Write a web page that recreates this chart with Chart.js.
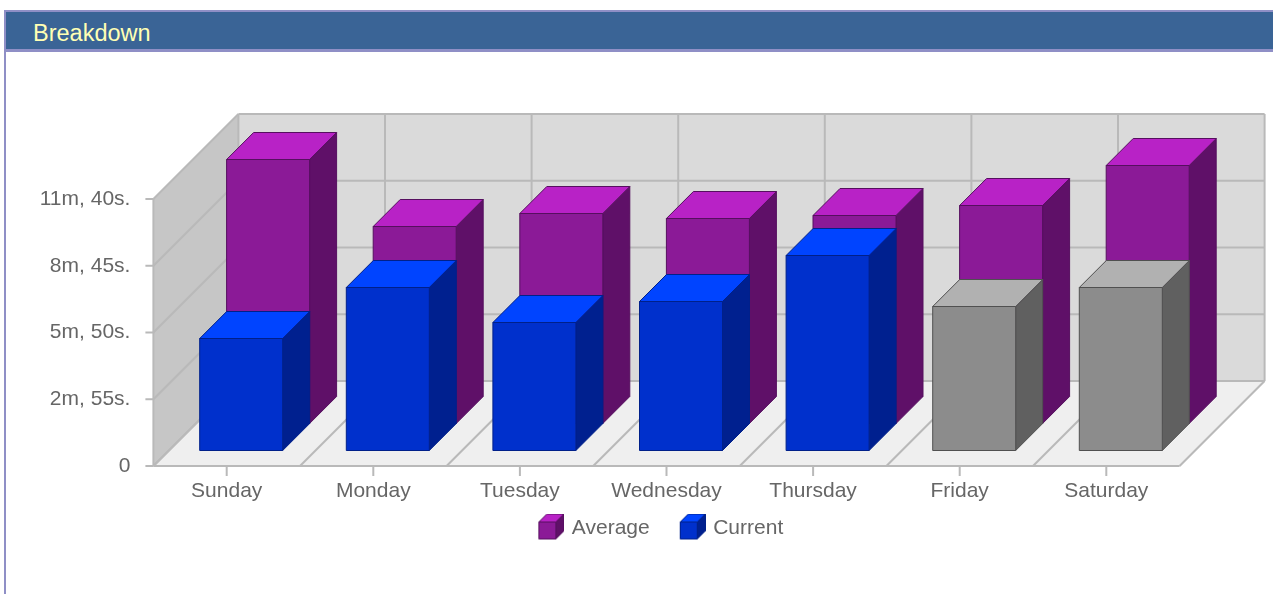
<!DOCTYPE html>
<html>
<head>
<meta charset="utf-8">
<title>Breakdown</title>
<script src="https://cdn.jsdelivr.net/npm/chart.js@4"></script>
<style>
  html, body { margin: 0; padding: 0; background: #fff; overflow: hidden; }
  #frame { position: absolute; left: 4px; top: 10px; right: 0; bottom: -10px; border-left: 2px solid #8f8fc6; border-top: 2px solid #8f8fc6; }
  #header { height: 37px; padding-left: 27px; background: #3a6496; border-bottom: 3px solid #8f8fc6;
    color: #ffffb4; font: 23.5px/43px "Liberation Sans", Arial, sans-serif; }
  #statsChart { position: absolute; left: 0; top: 0; }
</style>
</head>
<body>
<div id="frame"><div id="header">Breakdown</div></div>
<canvas id="statsChart" width="1273" height="594"></canvas>
<script>
const days = ['Sunday', 'Monday', 'Tuesday', 'Wednesday', 'Thursday', 'Friday', 'Saturday'];
const tickLabels = ['0', '2m, 55s.', '5m, 50s.', '8m, 45s.', '11m, 40s.'];
// seconds
const averageValues = [691, 516, 551, 538, 545, 571, 676];
const currentValues = [294, 427, 336, 391, 510, 378, 427];

const purple = { front: '#8b1a97', top: '#b822c6', side: '#5f1068', line: '#560f5f' };
const blue = { front: '#0030cc', top: '#0044ff', side: '#00208f', line: '#00208a' };
const grey = { front: '#8c8c8c', top: '#b1b1b1', side: '#606060', line: '#505050' };
const averageColors = [purple, purple, purple, purple, purple, purple, purple];
const currentColors = [blue, blue, blue, blue, blue, grey, grey];

const DEPTH = 85;      // floor depth
const BAR_DEPTH = 27;
const LINE = '#b9b9b9';
const FONT = '"Liberation Sans", Arial, sans-serif';

function poly(ctx, pts, fill, stroke) {
  ctx.beginPath();
  ctx.moveTo(pts[0][0], pts[0][1]);
  for (let i = 1; i < pts.length; i++) ctx.lineTo(pts[i][0], pts[i][1]);
  ctx.closePath();
  if (fill) { ctx.fillStyle = fill; ctx.fill(); }
  if (stroke) { ctx.strokeStyle = stroke; ctx.lineWidth = 1; ctx.stroke(); }
}

function line(ctx, x1, y1, x2, y2) {
  ctx.beginPath();
  ctx.moveTo(x1, y1);
  ctx.lineTo(x2, y2);
  ctx.stroke();
}

function drawBox(ctx, l, r, t, b, d, c) {
  poly(ctx, [[r, t], [r + d, t - d], [r + d, b - d], [r, b]], c.side, c.line);
  poly(ctx, [[l, t], [l + d, t - d], [r + d, t - d], [r, t]], c.top, c.line);
  poly(ctx, [[l, t], [r, t], [r, b], [l, b]], c.front, c.line);
}

function legendCube(c) {
  const cv = document.createElement('canvas');
  cv.width = 28;
  cv.height = 30;
  drawBox(cv.getContext('2d'), 2.5, 19.5, 8.5, 25.5, 8, c);
  return cv;
}

const room3d = {
  id: 'room3d',
  afterLayout(chart) {
    // the x axis box has to hold its labels, so the legend is pulled up over it
    chart.legend.top = 487;
    chart.legend.left = 143;
  },
  beforeDatasetsDraw(chart) {
    const ctx = chart.ctx;
    const { left, right, top, bottom } = chart.chartArea;
    const x = chart.scales.x;
    const y = chart.scales.y;
    const d = DEPTH;
    ctx.save();
    poly(ctx, [[left, bottom], [left + d, bottom - d], [left + d, top - d], [left, top]], '#c6c6c6');
    poly(ctx, [[left + d, bottom - d], [right + d, bottom - d], [right + d, top - d], [left + d, top - d]], '#dadada');
    poly(ctx, [[left, bottom], [right, bottom], [right + d, bottom - d], [left + d, bottom - d]], '#efefef');
    ctx.strokeStyle = LINE;
    ctx.lineWidth = 2;
    y.ticks.forEach((t, i) => {
      const py = y.getPixelForTick(i);
      line(ctx, left - 8, py, left, py);
      line(ctx, left, py, left + d, py - d);
      line(ctx, left + d, py - d, right + d, py - d);
    });
    const step = (right - left) / days.length;
    for (let i = 0; i <= days.length; i++) {
      const px = left + i * step;
      line(ctx, px, bottom, px + d, bottom - d);
      line(ctx, px + d, bottom - d, px + d, top - d);
    }
    line(ctx, left, bottom, left, top);
    line(ctx, left, bottom, right, bottom);
    days.forEach((n, i) => {
      const px = x.getPixelForValue(i);
      line(ctx, px, bottom, px, bottom + 10);
    });
    ctx.restore();
  },
  beforeDatasetDraw(chart, args) {
    const ctx = chart.ctx;
    const ds = chart.data.datasets[args.index];
    const meta = chart.getDatasetMeta(args.index);
    ctx.save();
    meta.data.forEach((bar, i) => {
      const half = bar.width / 2;
      const l = bar.x + ds.shiftX - half;
      const r = l + bar.width;
      const t = Math.round(bar.y - ds.shiftY) + 0.5;
      const b = Math.round(bar.base - ds.shiftY) + 0.5;
      drawBox(ctx, l, r, t, b, BAR_DEPTH, ds.faces[i]);
    });
    ctx.restore();
    return false;
  }
};

new Chart(document.getElementById('statsChart'), {
  type: 'bar',
  plugins: [room3d],
  data: {
    labels: days,
    datasets: [
      { label: 'Average', data: averageValues, faces: averageColors, backgroundColor: purple.front, shiftX: 41.4, shiftY: 43, order: 1 },
      { label: 'Current', data: currentValues, faces: currentColors, backgroundColor: blue.front, shiftX: 14.5, shiftY: 16, order: 0 }
    ]
  },
  options: {
    responsive: false,
    animation: false,
    events: [],
    font: { family: FONT },
    layout: { padding: { left: 30, right: 93.4, top: 199, bottom: 28 } },
    datasets: { bar: { grouped: false, barThickness: 83 } },
    plugins: {
      title: { display: false },
      tooltip: { enabled: false },
      legend: {
        position: 'bottom',
        onClick: null,
        labels: {
          color: '#666',
          padding: 31,
          usePointStyle: true,
          pointStyleWidth: 22,
          font: { family: FONT, size: 21 },
          generateLabels(chart) {
            return chart.data.datasets.map((ds, i) => ({
              text: ds.label,
              datasetIndex: i,
              fontColor: '#666',
              lineWidth: 0,
              pointStyle: legendCube(i === 0 ? purple : blue)
            }));
          }
        }
      }
    },
    scales: {
      x: {
        grid: { display: false },
        border: { display: false },
        afterFit(scale) { scale.height = 38; },
        ticks: {
          color: '#666',
          padding: 5,
          maxRotation: 0,
          font: { family: FONT, size: 21 }
        }
      },
      y: {
        min: 0,
        max: 700,
        grid: { display: false },
        border: { display: false },
        afterFit(scale) { scale.width = 123.4; },
        ticks: {
          stepSize: 175,
          color: '#666',
          padding: 15,
          callback(v, i) { return tickLabels[i]; },
          font: { family: FONT, size: 21 }
        }
      }
    }
  }
});
</script>
</body>
</html>
